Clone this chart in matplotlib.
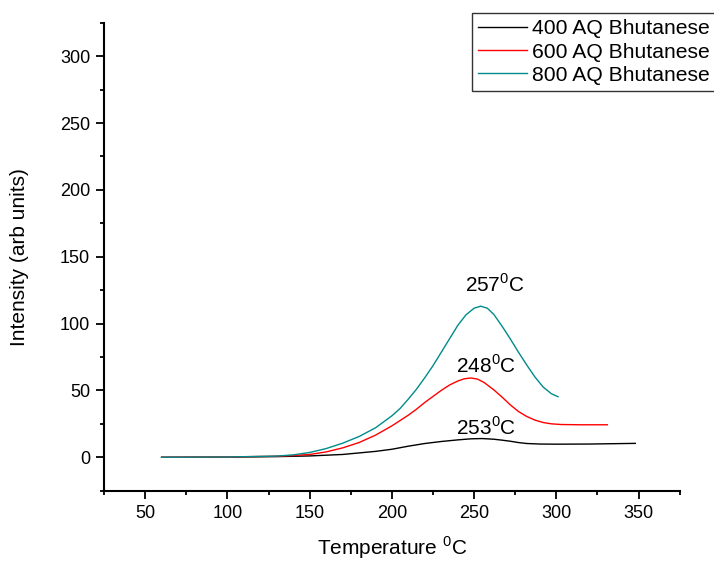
"""
TPD-style intensity curves for AQ Bhutanese samples
"""
import matplotlib.pyplot as plt
from matplotlib.ticker import MultipleLocator

plt.rcParams['font.family'] = ['Liberation Sans', 'DejaVu Sans']
plt.rcParams['mathtext.fontset'] = 'custom'
plt.rcParams['mathtext.rm'] = 'Liberation Sans'

# data
temp_400 = [60, 100, 130, 150, 170, 190, 200, 210, 220, 230, 240, 248, 255, 262, 267, 272, 277, 282, 290, 300, 320, 348]
int_400 = [0, 0.1, 0.5, 1.0, 2.1, 4.4, 6.0, 8.3, 10.3, 11.8, 13.0, 13.8, 14.0, 13.5, 12.8, 12.0, 11.0, 10.3, 9.9, 9.8, 9.9, 10.4]

temp_600 = [60, 100, 130, 140, 150, 160, 170, 180, 190, 200, 205, 210, 215, 220, 225, 230, 235, 240, 244, 248,
            252, 256, 262, 267, 272, 277, 282, 287, 292, 297, 303, 315, 331]
int_600 = [0, 0.2, 0.8, 1.3, 2.1, 4.0, 7.0, 11.0, 16.5, 23.5, 27.5, 31.5, 36.0, 41.0, 45.5, 50.0, 54.0, 57.0, 58.7, 59.3,
           58.5, 56.0, 50.4, 45.0, 39.2, 34.2, 30.5, 27.8, 26.0, 25.0, 24.5, 24.3, 24.3]

temp_800 = [60, 100, 130, 140, 150, 160, 170, 180, 190, 200, 205, 210, 215, 220, 225, 230, 235, 240, 245, 250,
            254, 258, 262, 267, 272, 277, 282, 287, 292, 297, 301]
int_800 = [0, 0.2, 0.9, 1.8, 3.6, 6.5, 10.5, 15.5, 22.0, 31.0, 36.5, 43.5, 51.0, 59.5, 68.5, 78.5, 88.5, 98.5, 106.5, 111.5,
           113.0, 111.5, 106.8, 98.0, 88.5, 78.5, 69.0, 60.0, 52.5, 47.5, 45.3]

series_names = ["400 AQ Bhutanese", "600 AQ Bhutanese", "800 AQ Bhutanese"]
peak_labels = ["257$^0$C", "248$^0$C", "253$^0$C"]
peak_pos = [(262.5, 129), (257.5, 69), (257.5, 22)]

fig = plt.figure(figsize=(7.14, 5.61), dpi=100)
ax = fig.add_axes([0.1457, 0.1253, 0.8063, 0.8342])

l1, = ax.plot(temp_400, int_400, color='black', lw=1)
l2, = ax.plot(temp_600, int_600, color='red', lw=1)
l3, = ax.plot(temp_800, int_800, color='#008b8b', lw=1)

for txt, (x, y) in zip(peak_labels, peak_pos):
    ax.text(x, y, txt, ha='center', va='center', fontsize=15)

ax.set_xlim(25, 375)
ax.set_ylim(-25, 325)
ax.xaxis.set_major_locator(MultipleLocator(50))
ax.xaxis.set_minor_locator(MultipleLocator(25))
ax.yaxis.set_major_locator(MultipleLocator(50))
ax.yaxis.set_minor_locator(MultipleLocator(25))
ax.tick_params(which='major', direction='out', length=6, width=1.3, labelsize=13, pad=4)
ax.tick_params(which='minor', direction='out', length=3, width=1.3)

for s in ['top', 'right']:
    ax.spines[s].set_visible(False)
for s in ['left', 'bottom']:
    ax.spines[s].set_linewidth(1.5)

ax.set_xlabel("Temperature $^0$C", fontsize=15, va='center')
ax.xaxis.set_label_coords(0.5, -0.122)
ax.set_ylabel("Intensity (arb units)", fontsize=15, va='center')
ax.yaxis.set_label_coords(-0.146, 0.5)

leg = fig.legend([l1, l2, l3], series_names,
                 loc='upper left', bbox_to_anchor=(472 / 714, 1 - 13 / 561),
                 fontsize=15.2, frameon=True, fancybox=False, handlelength=2.3,
                 handletextpad=0.25, labelspacing=0.2, borderpad=0.3,
                 borderaxespad=0)
leg.get_frame().set_edgecolor('black')
leg.get_frame().set_linewidth(1)

plt.savefig("out.png", dpi=100)
